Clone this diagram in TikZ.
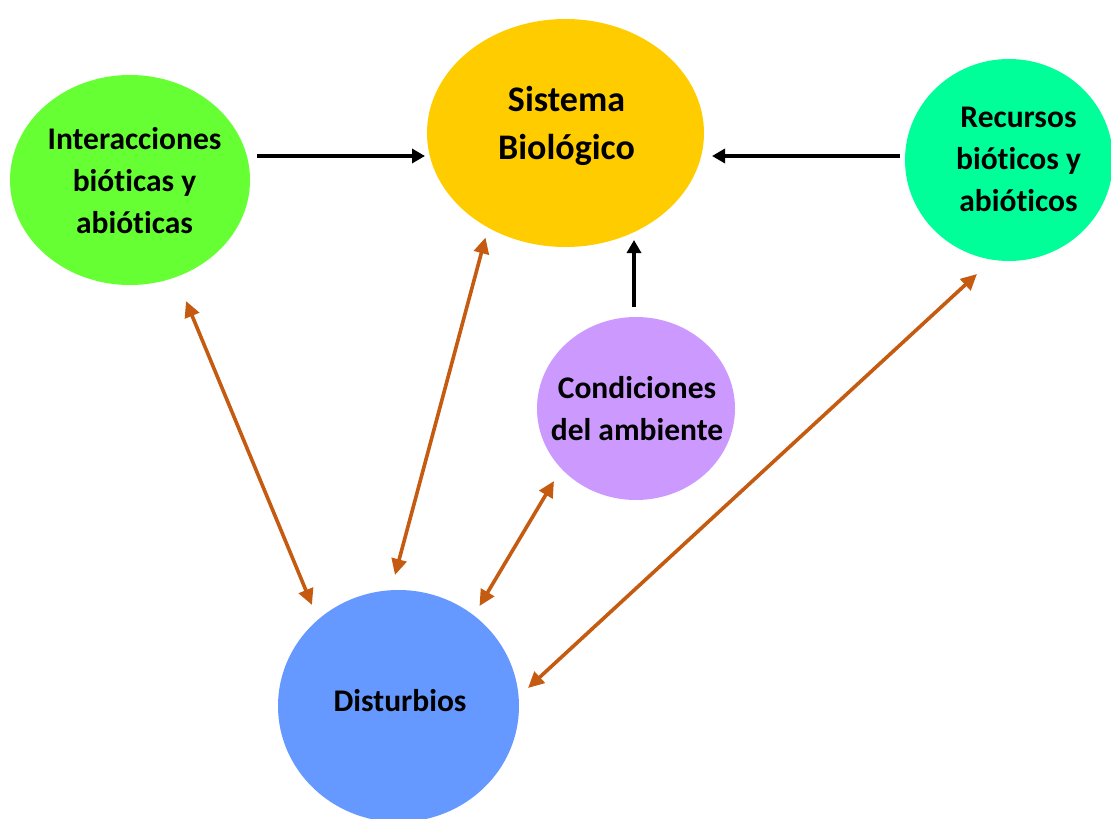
\documentclass[tikz,border=0pt]{standalone}
\usepackage{fontspec}
\setmainfont{Carlito}[Ligatures={NoCommon,NoContextual},RawFeature={-liga;-clig;-calt;-dlig}]
\usetikzlibrary{shapes.geometric,arrows.meta}
\definecolor{cInt}{HTML}{66FF33}
\definecolor{cSis}{HTML}{FFCC00}
\definecolor{cRec}{HTML}{00FF99}
\definecolor{cCon}{HTML}{CC99FF}
\definecolor{cDis}{HTML}{6699FF}
\definecolor{cOra}{HTML}{C55A11}
\newcommand{\tI}{t\kern0pt i}
\tikzset{
  blob/.style={ellipse, inner sep=0pt, draw=none},
  lbl/.style={align=center, font=\fontsize{31.5}{42}\selectfont\bfseries, inner sep=0pt},
  biglbl/.style={align=center, font=\fontsize{36}{48}\selectfont\bfseries, inner sep=0pt},
  blackarrow/.style={line width=3.6pt, -{Triangle[length=13pt,width=14pt]}},
  orangearrow/.style={line width=3.6pt, draw=cOra, {Triangle[length=16pt,width=15pt]}-{Triangle[length=16pt,width=15pt]}},
}
\begin{document}
\begin{tikzpicture}[x=1pt,y=-1pt]
\useasboundingbox (0,0) rectangle (1111,819);
% shapes
\node[blob, fill=cInt, minimum width=240pt, minimum height=210pt] (I) at (130,180) {};
\node[blob, fill=cSis, minimum width=277pt, minimum height=228pt] (S) at (565.5,133) {};
\node[blob, fill=cRec, minimum width=208pt, minimum height=202pt] (R) at (1009,160) {};
\node[blob, fill=cCon, minimum width=198pt, minimum height=183pt] (C) at (636,408.5) {};
\node[blob, fill=cDis, minimum width=241pt, minimum height=232pt] (D) at (398.5,706) {};
% texts
\node[lbl] (It) at (134.5,181) {Interacciones\\bió\tI cas y\\abió\tI cas};
\node[biglbl] (St) at (566.5,126) {Sistema\\Biológico};
\node[lbl] (Rt) at (1018.5,159) {Recursos\\bió\tI cos y\\abió\tI cos};
\node[lbl] (Ct) at (637,409) {Condiciones\\del ambiente};
\node[lbl] (Dt) at (400,701) {Disturbios};
% arrow end points
\coordinate (i1) at (257,156);
\coordinate (s1) at (425,156);
\coordinate (r1) at (900,156);
\coordinate (s2) at (712,156);
\coordinate (c1) at (634,307);
\coordinate (s3) at (634,240);
\coordinate (i2) at (186,301);
\coordinate (d1) at (312,605);
\coordinate (s4) at (485.5,237.5);
\coordinate (d2) at (395,575);
\coordinate (c2) at (554,481);
\coordinate (d3) at (479.5,606);
\coordinate (r2) at (977,274);
\coordinate (d4) at (528,688);
% connectors
\draw[blackarrow] (i1) -- (s1);
\draw[blackarrow] (r1) -- (s2);
\draw[blackarrow] (c1) -- (s3);
\draw[orangearrow] (i2) -- (d1);
\draw[orangearrow] (s4) -- (d2);
\draw[orangearrow] (c2) -- (d3);
\draw[orangearrow] (r2) -- (d4);
\end{tikzpicture}
\end{document}
